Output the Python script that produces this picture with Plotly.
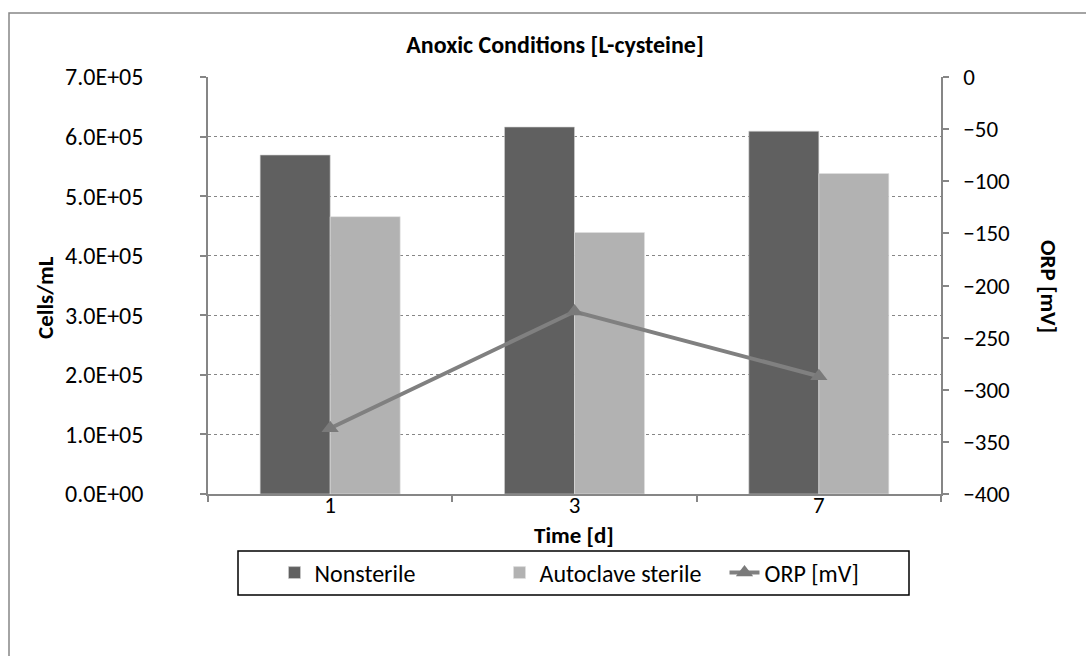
import plotly.graph_objects as go

# ---- data ----
days = ["1", "3", "7"]
nonsterile = [5.69e5, 6.16e5, 6.09e5]
autoclave = [4.655e5, 4.39e5, 5.38e5]
orp = [-337, -225, -287]

left_ticks = [0, 1e5, 2e5, 3e5, 4e5, 5e5, 6e5, 7e5]
left_labels = [f"{v:.1E}" for v in left_ticks]
right_ticks = [0, -50, -100, -150, -200, -250, -300, -350, -400]

FONT = "Calibri, Carlito, Lato, sans-serif"
AX = "#868686"

W, H = 1086, 656
L, R, T, B = 208, 941, 77, 494
pw, ph = R - L, B - T


def px(x):
    return (x - L) / pw


def py(y):
    return (B - y) / ph


fig = go.Figure()
fig.add_trace(go.Bar(x=days, y=nonsterile, name="Nonsterile",
                     marker=dict(color="#606060", line=dict(color="#d0d0d0", width=0.6))))
fig.add_trace(go.Bar(x=days, y=autoclave, name="Autoclave sterile",
                     marker=dict(color="#b2b2b2", line=dict(color="#e0e0e0", width=0.6))))
fig.add_trace(go.Scatter(x=days, y=orp, name="ORP [mV]", yaxis="y2",
                         mode="lines+markers",
                         line=dict(color="#808080", width=4),
                         marker=dict(symbol="triangle-up", size=15, color="#7a7a7a")))

fig.update_layout(
    width=W, height=H,
    margin=dict(l=L, r=W - R, t=T, b=H - B),
    paper_bgcolor="white", plot_bgcolor="white",
    font=dict(family=FONT, color="black", size=24),
    barmode="group", bargap=0.427, bargroupgap=0,
    showlegend=True,
    legend=dict(orientation="h", x=px(612), xanchor="center", y=py(573), yanchor="middle",
                font=dict(size=24, family=FONT), entrywidth=180, borderwidth=0,
                bgcolor="rgba(0,0,0,0)"),
    xaxis=dict(type="category", showline=True, linecolor=AX, linewidth=1.5,
               ticks="outside", tickson="boundaries", ticklen=6, tickcolor=AX, tickwidth=1.5,
               showgrid=False, tickfont=dict(size=23), range=[-0.5, 2.5],
               ticklabelstandoff=-10),
    yaxis=dict(range=[0, 7e5], tickvals=left_ticks, ticktext=left_labels,
               showline=True, linecolor=AX, linewidth=1.5, ticks="outside", ticklen=6,
               tickcolor=AX, tickwidth=1.5, showgrid=True, gridcolor=AX, griddash="dot",
               gridwidth=1, zeroline=False, tickfont=dict(size=24), ticklabelstandoff=52),
    yaxis2=dict(range=[-400, 0], tickvals=right_ticks, overlaying="y", side="right",
                showline=True, linecolor=AX, linewidth=1.5, ticks="outside", ticklen=6,
                tickcolor=AX, tickwidth=1.5, showgrid=False, zeroline=False,
                tickfont=dict(size=23), ticklabelstandoff=10),
    title=dict(text="<b>Anoxic Conditions [L-cysteine]</b>", x=555 / W, xanchor="center",
               y=1 - 45 / H, yanchor="middle", xref="container", yref="container",
               font=dict(size=24, family=FONT)),
    annotations=[
        dict(text="<b>Cells/mL</b>", x=px(45), y=py(298), xref="paper", yref="paper",
             xanchor="center", yanchor="middle",
             textangle=-90, showarrow=False, font=dict(size=23, family=FONT)),
        dict(text="<b>ORP [mV]</b>", x=px(1049), y=py(286), xref="paper", yref="paper",
             xanchor="center", yanchor="middle",
             textangle=90, showarrow=False, font=dict(size=23, family=FONT)),
        dict(text="<b>Time [d]</b>", x=px(574), y=py(535), xref="paper", yref="paper",
             xanchor="center", yanchor="middle",
             showarrow=False, font=dict(size=23, family=FONT)),
    ],
    shapes=[
        dict(type="rect", xref="paper", yref="paper", x0=px(9), y0=py(700), x1=px(1120), y1=py(13),
             line=dict(color=AX, width=1.5), layer="below"),
        dict(type="rect", xref="paper", yref="paper", x0=px(238), y0=py(595), x1=px(909), y1=py(551),
             line=dict(color="black", width=1.5), layer="below"),
    ],
)

fig.write_html("out.html")
